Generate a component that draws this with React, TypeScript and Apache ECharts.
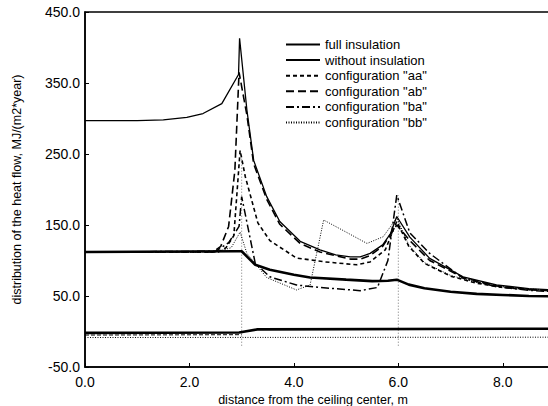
import React, { useEffect, useRef } from "react";
import * as echarts from "echarts";

// ---- data (x = distance from ceiling center [m], y = heat flow [MJ/(m2*year)]) ----
const fullInsulation: [number, number][] = [
  [0, 112], [2.9, 113], [3.0, 113], [3.15, 102], [3.26, 94], [3.54, 87], [4.0, 80], [4.31, 76],
  [5.0, 73], [5.5, 71], [5.8, 71.5], [5.97, 73], [6.2, 66], [6.5, 61], [7.0, 56], [7.5, 53],
  [8.0, 51.5], [8.5, 50], [9.0, 49.5],
];
const withoutInsulation: [number, number][] = [
  [0, 297], [1.0, 297], [1.5, 298], [1.95, 301.7], [2.26, 307], [2.62, 321], [2.94, 362],
  [2.96, 413], [3.1, 312], [3.23, 241], [3.48, 190], [3.73, 155], [4.12, 127], [4.5, 115],
  [4.8, 108], [5.08, 105], [5.27, 105], [5.46, 110], [5.7, 122], [5.85, 138], [5.97, 162],
  [6.22, 133], [6.6, 103], [7.24, 77], [7.88, 65.5], [8.5, 60.5], [9.0, 58.5],
];
const configAA: [number, number][] = [
  [0, 112], [2.55, 112], [2.7, 118], [2.85, 135], [2.97, 255], [3.07, 218], [3.31, 153],
  [3.54, 128], [4.05, 103.5], [4.6, 98], [5.2, 94], [5.46, 98], [5.75, 115], [5.97, 155],
  [6.2, 120], [6.5, 96], [7.0, 78], [7.5, 68], [8.0, 62], [8.5, 59], [9.0, 57],
];
const configAB: [number, number][] = [
  [0, 112], [2.45, 112], [2.6, 120], [2.75, 148], [2.87, 227], [2.95, 365], [3.1, 305],
  [3.23, 236], [3.48, 186], [3.73, 151], [4.12, 124], [4.5, 112], [5.08, 102], [5.27, 102],
  [5.46, 107], [5.7, 120], [5.97, 150], [6.22, 128], [6.6, 100], [7.24, 76], [7.88, 64],
  [8.5, 59], [9.0, 57],
];
const configBA: [number, number][] = [
  [0, 112], [2.5, 113], [2.75, 125], [2.95, 148], [3.0, 190], [3.26, 96], [3.54, 77],
  [4.05, 65.5], [4.5, 62], [5.27, 57.5], [5.6, 62], [5.8, 100], [5.97, 192], [6.22, 139],
  [6.6, 110], [7.24, 75], [7.88, 63], [8.5, 58], [9.0, 56],
];
const configBB: [number, number][] = [
  [0, 112], [2.5, 112], [2.8, 118], [2.97, 140], [3.1, 110], [3.48, 76], [4.05, 58.5],
  [4.31, 65.5], [4.57, 157], [5.0, 140], [5.4, 124], [5.71, 133.5], [5.97, 160], [6.2, 122],
  [6.5, 97], [7.0, 79], [7.5, 69], [8.0, 63], [8.5, 60], [9.0, 58],
];
// gains (below the flow lines)
const gainsFull: [number, number][] = [[0, -2], [2.95, -1.5], [3.3, 3], [9.0, 4]];
const gainsDashed: [number, number][] = [[0, -5], [3.0, -4.5]];
const gainsDotted: [number, number][] = [[0, -8.5], [9.0, -8]];
// zone boundaries (ceiling / wall / floor)
const boundaryX = [3.0, 6.0];
const boundaryTop = [250, 192];
const boundaryBottom = -20;
// annotations
const annotations = [
  { name: "losses", x: 1.38, y: 171 },
  { name: "gains", x: 1.34, y: 29 },
  { name: "ceiling", x: 1.4, y: -22 },
  { name: "wall", x: 4.31, y: -22 },
  { name: "floor", x: 7.3, y: -22 },
];
const xTicks = [0, 2, 4, 6, 8];

const FONT = "'Liberation Sans', Arial, Helvetica, sans-serif";

export default function App() {
  const ref = useRef<HTMLDivElement>(null);
  useEffect(() => {
    document.body.style.margin = "0";
    if (!ref.current) return;
    const chart = echarts.init(ref.current, undefined, { renderer: "svg" });
    const lineSeries = (name: string, data: [number, number][], width: number, type: any) => ({
      name,
      type: "line",
      data,
      symbol: "none",
      showSymbol: false,
      silent: true,
      z: 3,
      color: "#000",
      itemStyle: { color: "#000" },
      lineStyle: { color: "#000", width, type },
    });
    const series: any[] = [];
    boundaryX.forEach((bx, i) => {
      series.push({
        name: "boundary" + i,
        type: "line",
        data: [[bx, boundaryBottom], [bx, boundaryTop[i]]],
        symbol: "none",
        silent: true,
        z: 1,
        color: "#555",
        lineStyle: { color: "#555", width: 0.8, type: [1, 2] },
      });
    });
    series.push(lineSeries("full insulation", fullInsulation, 2.6, "solid"));
    series.push(lineSeries("without insulation", withoutInsulation, 1.3, "solid"));
    series.push(lineSeries('configuration "aa"', configAA, 1.6, [4, 3]));
    series.push(lineSeries('configuration "ab"', configAB, 1.6, [8, 4]));
    series.push(lineSeries('configuration "ba"', configBA, 1.5, [8, 3, 2, 3]));
    series.push(lineSeries('configuration "bb"', configBB, 1, [1, 1.5]));
    series.push(lineSeries("gains full", gainsFull, 2.6, "solid"));
    series.push(lineSeries("gains dashed", gainsDashed, 1, [4, 2]));
    series.push(lineSeries("gains dotted", gainsDotted, 1, [1, 1.5]));
    series.push({
      name: "annotations",
      type: "scatter",
      symbolSize: 1,
      silent: true,
      itemStyle: { opacity: 0 },
      data: annotations.map((a) => ({ name: a.name, value: [a.x, a.y] })),
      label: {
        show: true,
        position: "inside",
        formatter: "{b}",
        color: "#000",
        fontSize: 13,
        fontFamily: FONT,
      },
    });

    chart.setOption({
      animation: false,
      backgroundColor: "#fff",
      grid: {
        left: 85,
        top: 12,
        width: 470,
        height: 355,
        outerBoundsMode: "none",
        containLabel: false,
        show: true,
        borderColor: "#000",
        borderWidth: 1.5,
      },
      legend: {
        data: [
          "full insulation",
          "without insulation",
          'configuration "aa"',
          'configuration "ab"',
          'configuration "ba"',
          'configuration "bb"',
        ],
        orient: "vertical",
        left: 280,
        top: 33,
        itemWidth: 34,
        itemHeight: 12,
        itemGap: 2.6,
        selectedMode: false,
        itemStyle: { opacity: 0 },
        textStyle: { color: "#000", fontSize: 13, fontFamily: FONT },
      },
      xAxis: {
        type: "value",
        min: 0,
        max: 9,
        interval: 2,
        axisLine: { show: true, onZero: false, lineStyle: { color: "#000", width: 1.5 } },
        axisTick: { show: true, inside: true, length: 4, lineStyle: { color: "#000" } },
        splitLine: { show: false },
        axisLabel: {
          color: "#000",
          fontSize: 14,
          fontFamily: FONT,
          margin: 8,
          formatter: (v: number) => (xTicks.includes(v) ? v.toFixed(1) : ""),
        },
        name: "distance from the ceiling center, m",
        nameLocation: "middle",
        nameGap: 17,
        nameTextStyle: { color: "#000", fontSize: 12.5, fontFamily: FONT, padding: [0, 14, 0, 0] },
      },
      yAxis: {
        type: "value",
        min: -50,
        max: 450,
        interval: 100,
        axisLine: { show: true, onZero: false, lineStyle: { color: "#000", width: 1.5 } },
        axisTick: { show: true, inside: true, length: 4, lineStyle: { color: "#000" } },
        splitLine: { show: false },
        axisLabel: {
          color: "#000",
          fontSize: 14,
          fontFamily: FONT,
          margin: 5,
          formatter: (v: number) => v.toFixed(1),
        },
        name: "distribution of the heat flow, MJ/(m2*year)",
        nameLocation: "middle",
        nameGap: 62,
        nameTextStyle: { color: "#000", fontSize: 12.5, fontFamily: FONT },
      },
      series,
    });
    return () => chart.dispose();
  }, []);
  return (
    <div
      ref={ref}
      style={{ position: "fixed", left: 0, top: 0, width: 548, height: 406, background: "#fff" }}
    />
  );
}
